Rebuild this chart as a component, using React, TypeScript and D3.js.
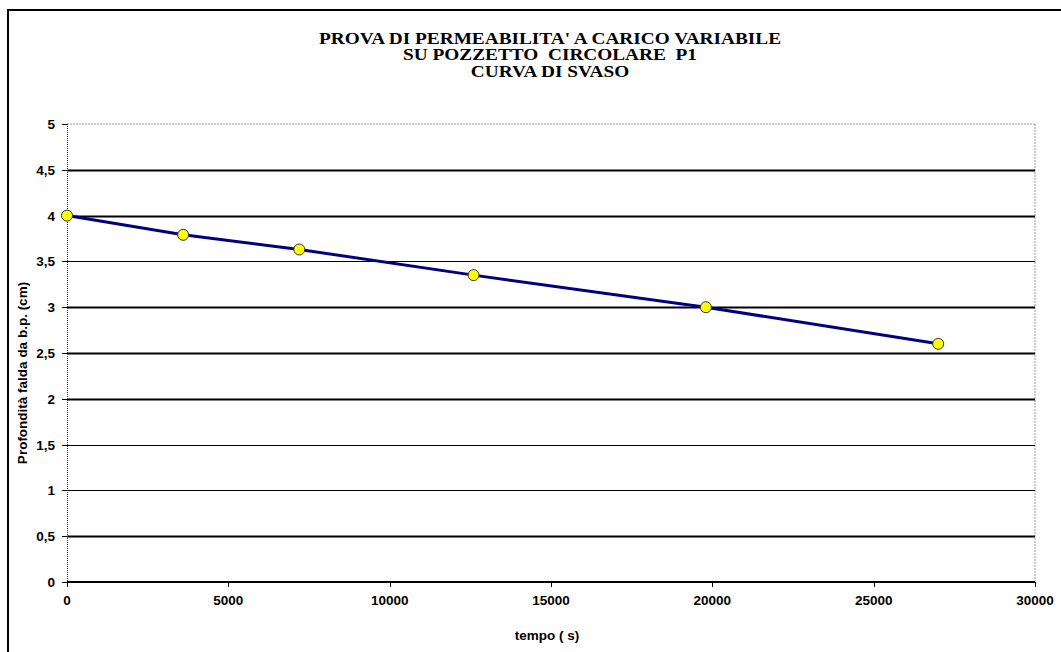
import React from "react";
import * as d3 from "d3";

const timeSeconds = [0, 3600, 7200, 12600, 19800, 27000];
const depthCm = [4.0, 3.79, 3.63, 3.35, 3.0, 2.6];
const xTicks = [0, 5000, 10000, 15000, 20000, 25000, 30000];
const yTicks = [0, 0.5, 1, 1.5, 2, 2.5, 3, 3.5, 4, 4.5, 5];
const titleLines = [
  "PROVA DI PERMEABILITA' A CARICO VARIABILE",
  "SU POZZETTO  CIRCOLARE  P1",
  "CURVA DI SVASO",
];
const xLabel = "tempo ( s)";
const yLabel = "Profondità falda da b.p. (cm)";

const thinGrid = new Set([3.5, 1.5, 1]);

export default function App() {
  const W = 1061, H = 652;
  const left = 67, right = 1035, top = 124, bottom = 582;
  const x = d3.scaleLinear().domain([0, 30000]).range([left, right]);
  const y = d3.scaleLinear().domain([0, 5]).range([bottom, top]);
  const data = timeSeconds.map((t, i) => ({ t, d: depthCm[i] }));
  const line = d3.line<{ t: number; d: number }>().x((p) => x(p.t)).y((p) => y(p.d));
  const fmt = (v: number) => String(v).replace(".", ",");
  const font = "Arial, 'Liberation Sans', sans-serif";
  const serif = "'Liberation Serif', 'Times New Roman', 'DejaVu Serif', serif";

  return (
    <svg width={W} height={H} style={{ position: "absolute", left: 0, top: 0, background: "#fff" }}>
      <rect x={0} y={0} width={W} height={H} fill="#fff" />
      <rect x={8} y={10} width={W + 20} height={H + 20} fill="none" stroke="#000" strokeWidth={2} />
      <g transform="translate(550,0) scale(1.17,1)">
        {titleLines.map((s, i) => (
          <text key={i} x={0} y={44 + i * 16.5} textAnchor="middle"
            style={{ fontFamily: serif, fontWeight: 700, fontSize: 16.5, whiteSpace: "pre" }}>{s}</text>
        ))}
      </g>
      {/* plot area border (top, right) */}
      <line x1={left} x2={right} y1={top} y2={top} stroke="#999" strokeWidth={1} strokeDasharray="2,1" />
      <line x1={right} x2={right} y1={top} y2={bottom} stroke="#999" strokeWidth={1} strokeDasharray="2,1" />
      {yTicks.filter((v) => v > 0 && v < 5).map((v) => (
        <line key={v} x1={left} x2={right} y1={Math.round(y(v)) + 0.5} y2={Math.round(y(v)) + 0.5}
          stroke="#000" strokeWidth={thinGrid.has(v) ? 1 : 2} />
      ))}
      {/* y axis */}
      <line x1={left + 0.5} x2={left + 0.5} y1={top} y2={bottom} stroke="#333" strokeWidth={1} strokeDasharray="1,1" />
      {yTicks.map((v) => (
        <g key={v}>
          <line x1={left - 5} x2={left} y1={Math.round(y(v)) + 0.5} y2={Math.round(y(v)) + 0.5} stroke="#000" strokeWidth={1} />
          <text x={55} y={y(v) + 5} textAnchor="end" style={{ fontFamily: font, fontWeight: 700, fontSize: 13.5 }}>{fmt(v)}</text>
        </g>
      ))}
      {/* x axis */}
      <line x1={left} x2={right} y1={bottom} y2={bottom} stroke="#000" strokeWidth={2} />
      {xTicks.map((v) => (
        <g key={v}>
          <line x1={Math.round(x(v)) + 0.5} x2={Math.round(x(v)) + 0.5} y1={bottom} y2={bottom + 5} stroke="#000" strokeWidth={1} />
          <text x={x(v)} y={605} textAnchor="middle" style={{ fontFamily: font, fontWeight: 700, fontSize: 13.5 }}>{v}</text>
        </g>
      ))}
      <text x={547} y={640} textAnchor="middle" style={{ fontFamily: font, fontWeight: 700, fontSize: 13.5 }}>{xLabel}</text>
      <text transform={`translate(27,${373}) rotate(-90)`} textAnchor="middle" style={{ fontFamily: font, fontWeight: 700, fontSize: 13.5 }}>{yLabel}</text>
      <path d={line(data) || ""} fill="none" stroke="#000080" strokeWidth={3} />
      {data.map((p, i) => (
        <circle key={i} cx={x(p.t)} cy={y(p.d)} r={5.5} fill="#ffff00" stroke="#333" strokeWidth={1} />
      ))}
    </svg>
  );
}
